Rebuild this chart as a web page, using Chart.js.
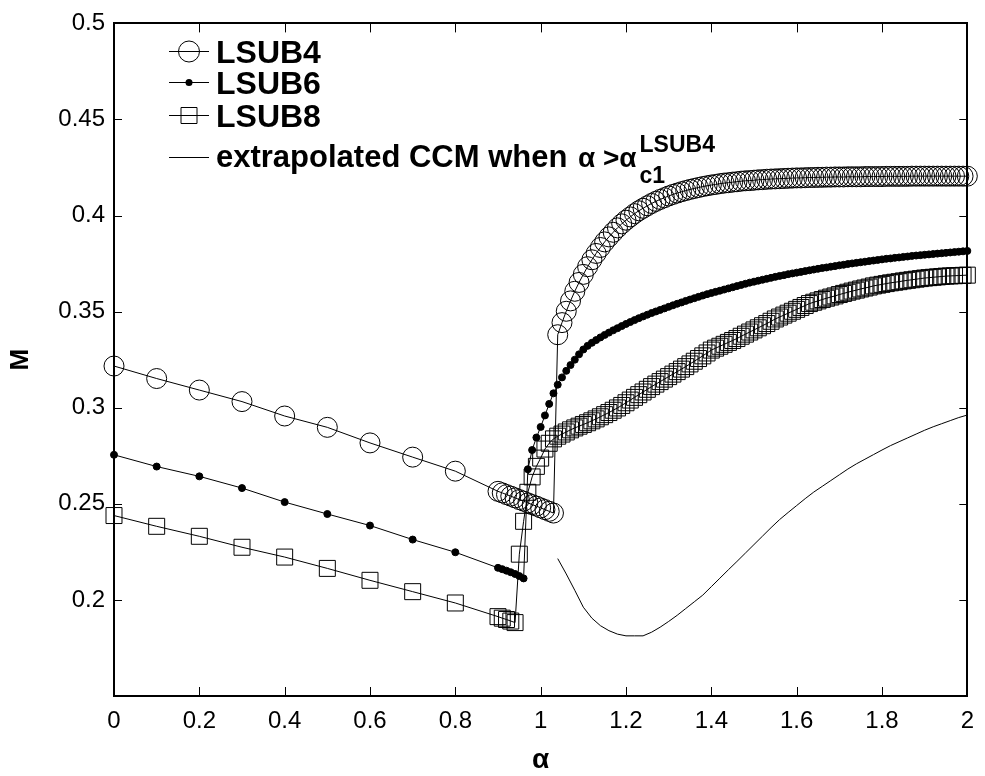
<!DOCTYPE html>
<html>
<head>
<meta charset="utf-8">
<script src="https://cdn.jsdelivr.net/npm/chart.js@4.4.0/dist/chart.umd.min.js"></script>
<style>
  html, body { margin: 0; padding: 0; background: #ffffff; }
  canvas { display: block; }
</style>
</head>
<body>
<canvas id="chart" width="985" height="776"></canvas>
<script>
// Coarse alpha grid (step 0.1) before the transition
const ALPHA_COARSE = [0, 0.1, 0.2, 0.3, 0.4, 0.5, 0.6, 0.7, 0.8];

// Fine alpha grid (step 0.01) through and after the transition
const ALPHA_FINE = [
  0.90, 0.91, 0.92, 0.93, 0.94, 0.95, 0.96, 0.97, 0.98, 0.99,
  1.00, 1.01, 1.02, 1.03, 1.04, 1.05, 1.06, 1.07, 1.08, 1.09,
  1.10, 1.11, 1.12, 1.13, 1.14, 1.15, 1.16, 1.17, 1.18, 1.19,
  1.20, 1.21, 1.22, 1.23, 1.24, 1.25, 1.26, 1.27, 1.28, 1.29,
  1.30, 1.31, 1.32, 1.33, 1.34, 1.35, 1.36, 1.37, 1.38, 1.39,
  1.40, 1.41, 1.42, 1.43, 1.44, 1.45, 1.46, 1.47, 1.48, 1.49,
  1.50, 1.51, 1.52, 1.53, 1.54, 1.55, 1.56, 1.57, 1.58, 1.59,
  1.60, 1.61, 1.62, 1.63, 1.64, 1.65, 1.66, 1.67, 1.68, 1.69,
  1.70, 1.71, 1.72, 1.73, 1.74, 1.75, 1.76, 1.77, 1.78, 1.79,
  1.80, 1.81, 1.82, 1.83, 1.84, 1.85, 1.86, 1.87, 1.88, 1.89,
  1.90, 1.91, 1.92, 1.93, 1.94, 1.95, 1.96, 1.97, 1.98, 1.99,
  2.00
];

// Alpha grid of the extrapolated CCM curve (step 0.02)
const ALPHA_CCM = [
  1.04, 1.06, 1.08, 1.10, 1.12, 1.14, 1.16, 1.18, 1.20, 1.22,
  1.24, 1.26, 1.28, 1.30, 1.32, 1.34, 1.36, 1.38, 1.40, 1.42,
  1.44, 1.46, 1.48, 1.50, 1.52, 1.54, 1.56, 1.58, 1.60, 1.62,
  1.64, 1.66, 1.68, 1.70, 1.72, 1.74, 1.76, 1.78, 1.80, 1.82,
  1.84, 1.86, 1.88, 1.90, 1.92, 1.94, 1.96, 1.98, 2.00
];

// LSUB4 order parameter M
const LSUB4_COARSE = [0.3217, 0.3152, 0.3092, 0.3032, 0.2957, 0.2898, 0.2817, 0.2743, 0.2670];
const LSUB4_FINE = [
  0.2565, 0.2557, 0.2548, 0.2540, 0.2531, 0.2522, 0.2514, 0.2505, 0.2496, 0.2488,
  0.2479, 0.2470, 0.2461, 0.2452,
  0.3380, 0.3443, 0.3502, 0.3556, 0.3606, 0.3652, 0.3694, 0.3734, 0.3770, 0.3803,
  0.3834, 0.3863, 0.3889, 0.3913, 0.3936, 0.3957, 0.3976, 0.3993, 0.4010, 0.4025,
  0.4038, 0.4051, 0.4063, 0.4074, 0.4084, 0.4093, 0.4102, 0.4110, 0.4117, 0.4124,
  0.4130, 0.4136, 0.4141, 0.4146, 0.4151, 0.4155, 0.4159, 0.4162, 0.4166, 0.4169,
  0.4171, 0.4174, 0.4176, 0.4179, 0.4181, 0.4182, 0.4184, 0.4186, 0.4187, 0.4189,
  0.4190, 0.4191, 0.4192, 0.4193, 0.4194, 0.4195, 0.4196, 0.4196, 0.4197, 0.4198,
  0.4198, 0.4199, 0.4199, 0.4200, 0.4200, 0.4201, 0.4201, 0.4201, 0.4202, 0.4202,
  0.4202, 0.4202, 0.4203, 0.4203, 0.4203, 0.4203, 0.4203, 0.4204, 0.4204, 0.4204,
  0.4204, 0.4204, 0.4204, 0.4205, 0.4205, 0.4205, 0.4205, 0.4205, 0.4205, 0.4205,
  0.4205, 0.4205, 0.4205, 0.4205, 0.4205, 0.4205, 0.4205
];

// LSUB6 order parameter M
const LSUB6_COARSE = [0.2755, 0.2694, 0.2643, 0.2582, 0.2509, 0.2447, 0.2387, 0.2314, 0.2248];
const LSUB6_FINE = [
  0.2167, 0.2160, 0.2152, 0.2144, 0.2135, 0.2124, 0.2112,
  0.2680, 0.2780, 0.2845, 0.2900, 0.2960, 0.3020, 0.3075, 0.3120, 0.3158, 0.3192,
  0.3222, 0.3250, 0.3278, 0.3303, 0.3322, 0.3338, 0.3352, 0.3366, 0.3379, 0.3391,
  0.3403, 0.3414, 0.3425, 0.3436, 0.3446, 0.3456, 0.3466, 0.3475, 0.3484, 0.3493,
  0.3501, 0.3509, 0.3517, 0.3525, 0.3533, 0.3541, 0.3548, 0.3556, 0.3563, 0.3570,
  0.3577, 0.3584, 0.3591, 0.3597, 0.3603, 0.3609, 0.3615, 0.3621, 0.3627, 0.3633,
  0.3639, 0.3645, 0.3651, 0.3656, 0.3661, 0.3666, 0.3671, 0.3676, 0.3681, 0.3686,
  0.3690, 0.3695, 0.3699, 0.3703, 0.3707, 0.3711, 0.3715, 0.3719, 0.3723, 0.3727,
  0.3730, 0.3734, 0.3737, 0.3741, 0.3744, 0.3748, 0.3751, 0.3754, 0.3757, 0.3760,
  0.3763, 0.3766, 0.3769, 0.3772, 0.3775, 0.3777, 0.3780, 0.3782, 0.3785, 0.3787,
  0.3790, 0.3792, 0.3794, 0.3796, 0.3798, 0.3800, 0.3802, 0.3804, 0.3806, 0.3808,
  0.3810, 0.3812, 0.3814, 0.3816
];

// LSUB8 order parameter M
const LSUB8_COARSE = [0.2439, 0.2383, 0.2331, 0.2274, 0.2223, 0.2164, 0.2102, 0.2043, 0.1984];
const LSUB8_FINE = [
  0.1913, 0.1905, 0.1898, 0.1890, 0.1882,
  0.2238, 0.2409, 0.2560, 0.2640, 0.2695, 0.2738, 0.2785, 0.2815, 0.2838, 0.2852,
  0.2863, 0.2874, 0.2885, 0.2895, 0.2904, 0.2913, 0.2922, 0.2932, 0.2942, 0.2953,
  0.2964, 0.2975, 0.2987, 0.2999, 0.3012, 0.3026, 0.3040, 0.3054, 0.3068, 0.3082,
  0.3096, 0.3110, 0.3123, 0.3136, 0.3149, 0.3162, 0.3175, 0.3188, 0.3201, 0.3214,
  0.3228, 0.3242, 0.3256, 0.3270, 0.3285, 0.3300, 0.3310, 0.3320, 0.3330, 0.3340,
  0.3350, 0.3360, 0.3372, 0.3383, 0.3394, 0.3405, 0.3416, 0.3427, 0.3438, 0.3450,
  0.3462, 0.3472, 0.3482, 0.3492, 0.3502, 0.3512, 0.3522, 0.3532, 0.3542, 0.3549,
  0.3556, 0.3563, 0.3570, 0.3576, 0.3582, 0.3589, 0.3595, 0.3601, 0.3607, 0.3612,
  0.3618, 0.3623, 0.3628, 0.3634, 0.3638, 0.3642, 0.3646, 0.3650, 0.3653, 0.3656,
  0.3660, 0.3663, 0.3666, 0.3669, 0.3672, 0.3675, 0.3677, 0.3679, 0.3681, 0.3683,
  0.3685, 0.3686, 0.3687, 0.3688, 0.3689, 0.3690
];

// Extrapolated CCM beyond the LSUB4 critical point
const CCM_EXTRAP = [
  0.2215, 0.2135, 0.2050, 0.1962, 0.1905, 0.1866, 0.1840, 0.1822, 0.1813, 0.1813,
  0.1813, 0.1832, 0.1858, 0.1888, 0.1920, 0.1955, 0.1990, 0.2025, 0.2069, 0.2113,
  0.2157, 0.2200, 0.2244, 0.2288, 0.2332, 0.2376, 0.2418, 0.2455, 0.2491, 0.2527,
  0.2561, 0.2591, 0.2621, 0.2651, 0.2681, 0.2708, 0.2732, 0.2756, 0.2780, 0.2803,
  0.2823, 0.2843, 0.2863, 0.2883, 0.2901, 0.2917, 0.2933, 0.2949, 0.2962
];

// Axis ticks
const X_TICKS = [0, 0.2, 0.4, 0.6, 0.8, 1, 1.2, 1.4, 1.6, 1.8, 2];
const Y_TICKS = [0.2, 0.25, 0.3, 0.35, 0.4, 0.45, 0.5];

function toPoints(xs, ys) {
  return xs.map((x, i) => ({ x: x, y: ys[i] }));
}

const FONT = "'Liberation Sans', Arial, Helvetica, sans-serif";

// Box around the plot with inward tick marks on all four sides
const framePlugin = {
  id: 'frame',
  afterDraw(chart) {
    const { ctx, chartArea: a, scales } = chart;
    ctx.save();
    ctx.strokeStyle = '#000';
    ctx.lineWidth = 1;
    const xs = scales.x, ys = scales.y;
    ctx.beginPath();
    X_TICKS.forEach(v => {
      if (v <= xs.min || v >= xs.max) return;
      const px = Math.round(xs.getPixelForValue(v)) + 0.5;
      ctx.moveTo(px, a.bottom); ctx.lineTo(px, a.bottom - 9);
      ctx.moveTo(px, a.top); ctx.lineTo(px, a.top + 9);
    });
    Y_TICKS.forEach(v => {
      if (v <= ys.min || v >= ys.max) return;
      const py = Math.round(ys.getPixelForValue(v)) + 0.5;
      ctx.moveTo(a.left, py); ctx.lineTo(a.left + 8, py);
      ctx.moveTo(a.right, py); ctx.lineTo(a.right - 8, py);
    });
    ctx.stroke();
    ctx.lineWidth = 2;
    ctx.strokeRect(Math.round(a.left), Math.round(a.top), Math.round(a.right - a.left), Math.round(a.bottom - a.top));

    // axis titles
    ctx.fillStyle = '#000';
    ctx.textAlign = 'center';
    ctx.textBaseline = 'middle';
    ctx.font = 'bold 28px ' + FONT;
    ctx.fillText('α', (a.left + a.right) / 2, 760);
    ctx.save();
    ctx.translate(21, (a.top + a.bottom) / 2);
    ctx.rotate(-Math.PI / 2);
    ctx.font = 'bold 26px ' + FONT;
    ctx.fillText('M', 0, 0);
    ctx.restore();
    ctx.restore();
  }
};

// Legend in the upper left corner of the plot
const legendPlugin = {
  id: 'cornerLegend',
  afterDraw(chart) {
    const ctx = chart.ctx;
    ctx.save();
    ctx.strokeStyle = '#000';
    ctx.fillStyle = '#000';
    ctx.lineWidth = 1;
    const x0 = 169, x1 = 209, xm = 189, tx = 216;
    const rows = [
      { y: 51, kind: 'circle', label: 'LSUB4' },
      { y: 82, kind: 'dot', label: 'LSUB6' },
      { y: 115, kind: 'square', label: 'LSUB8' }
    ];
    ctx.textAlign = 'left';
    ctx.textBaseline = 'alphabetic';
    rows.forEach(r => {
      ctx.beginPath();
      ctx.moveTo(x0, r.y + 0.5); ctx.lineTo(x1, r.y + 0.5);
      ctx.stroke();
      ctx.beginPath();
      if (r.kind === 'circle') {
        ctx.arc(xm, r.y + 0.5, 10.5, 0, Math.PI * 2);
        ctx.stroke();
      } else if (r.kind === 'dot') {
        ctx.arc(xm, r.y + 0.5, 3.5, 0, Math.PI * 2);
        ctx.fill();
      } else {
        ctx.rect(xm - 8, r.y - 7.5, 16, 16);
        ctx.stroke();
      }
      ctx.font = 'bold 32px ' + FONT;
      ctx.fillText(r.label, tx, r.y + 12);
    });
    // fourth row: plain line
    const y4 = 157;
    ctx.beginPath();
    ctx.moveTo(x0, y4 + 0.5); ctx.lineTo(x1, y4 + 0.5);
    ctx.stroke();
    let cx = tx;
    const base = 167;
    ctx.font = 'bold 31px ' + FONT;
    const t1 = 'extrapolated CCM when ';
    ctx.fillText(t1, cx, base);
    cx += ctx.measureText(t1).width + 2;
    ctx.font = 'bold 28px ' + FONT;
    const t2 = 'α >α';
    ctx.fillText(t2, cx, base);
    cx += ctx.measureText(t2).width + 3;
    ctx.font = 'bold 23px ' + FONT;
    ctx.fillText('LSUB4', cx, 152);
    ctx.fillText('c1', cx, 183);
    ctx.restore();
  }
};

const common = {
  showLine: true,
  borderColor: '#000',
  borderWidth: 1,
  pointBorderColor: '#000',
  pointBorderWidth: 1,
  pointHoverRadius: 0,
  tension: 0,
  clip: false
};

new Chart(document.getElementById('chart').getContext('2d'), {
  type: 'scatter',
  data: {
    datasets: [
      Object.assign({}, common, {
        label: 'LSUB4',
        data: toPoints(ALPHA_COARSE.concat(ALPHA_FINE), LSUB4_COARSE.concat(LSUB4_FINE)),
        pointStyle: 'circle',
        pointRadius: 10,
        pointBackgroundColor: 'rgba(0,0,0,0)',
        order: 4
      }),
      Object.assign({}, common, {
        label: 'LSUB6',
        data: toPoints(ALPHA_COARSE.concat(ALPHA_FINE), LSUB6_COARSE.concat(LSUB6_FINE)),
        pointStyle: 'circle',
        pointRadius: 3.5,
        pointBackgroundColor: '#000',
        order: 3
      }),
      Object.assign({}, common, {
        label: 'LSUB8',
        data: toPoints(ALPHA_COARSE.concat(ALPHA_FINE), LSUB8_COARSE.concat(LSUB8_FINE)),
        pointStyle: 'rect',
        pointRadius: 11.3,
        pointBackgroundColor: 'rgba(0,0,0,0)',
        order: 2
      }),
      Object.assign({}, common, {
        label: 'extrapolated CCM',
        data: toPoints(ALPHA_CCM, CCM_EXTRAP),
        pointRadius: 0,
        order: 1
      })
    ]
  },
  options: {
    responsive: false,
    animation: false,
    devicePixelRatio: 1,
    events: [],
    layout: { padding: { top: 20, right: 12, bottom: 0, left: 0 } },
    plugins: {
      legend: { display: false },
      tooltip: { enabled: false },
      title: { display: false }
    },
    scales: {
      x: {
        type: 'linear',
        min: 0, max: 2,
        afterFit(scale) { scale.height = 80; },
        afterBuildTicks(scale) { scale.ticks = X_TICKS.map(v => ({ value: v })); },
        grid: { display: false, drawTicks: false },
        border: { display: false },
        ticks: {
          color: '#000',
          padding: 11,
          maxRotation: 0,
          autoSkip: false,
          font: { family: FONT, size: 24 },
          callback: v => String(Math.round(v * 10) / 10)
        }
      },
      y: {
        type: 'linear',
        min: 0.15, max: 0.5,
        afterFit(scale) { scale.width = 114; },
        afterBuildTicks(scale) { scale.ticks = Y_TICKS.map(v => ({ value: v })); },
        grid: { display: false, drawTicks: false },
        border: { display: false },
        ticks: {
          color: '#000',
          padding: 9,
          autoSkip: false,
          font: { family: FONT, size: 24 },
          callback: v => String(Math.round(v * 100) / 100)
        }
      }
    }
  },
  plugins: [framePlugin, legendPlugin]
});
</script>
</body>
</html>
